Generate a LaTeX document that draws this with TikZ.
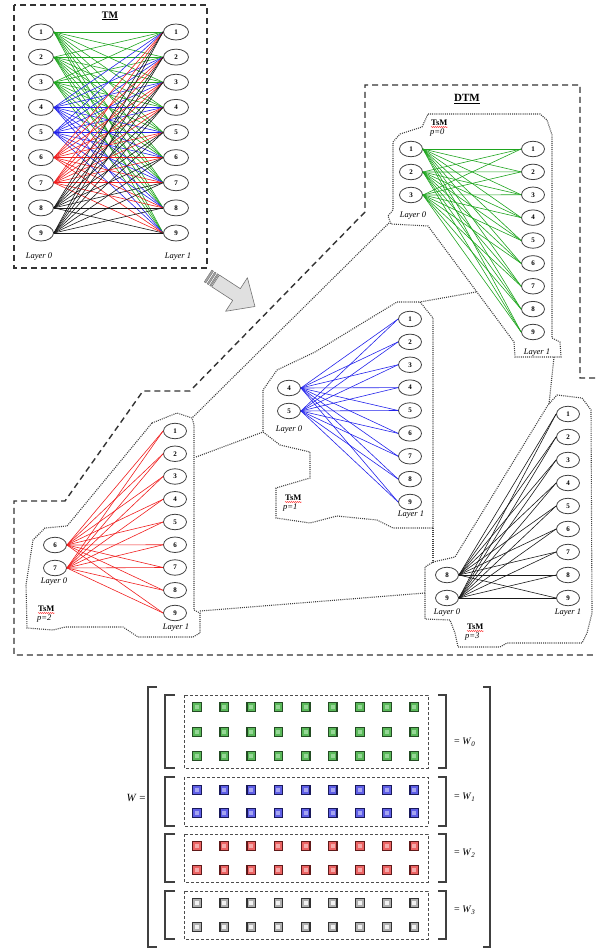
\documentclass[tikz,border=0pt]{standalone}
\usepackage{fontspec}
\setmainfont{Liberation Serif}
\usetikzlibrary{shapes.geometric,decorations.pathmorphing}
\definecolor{eg}{RGB}{30,165,30}
\definecolor{eb}{RGB}{35,35,235}
\definecolor{er}{RGB}{240,30,30}
\definecolor{ek}{RGB}{25,25,25}
\definecolor{sqg}{RGB}{90,185,90}
\definecolor{bdg}{RGB}{35,75,35}
\definecolor{ing}{RGB}{150,215,150}
\definecolor{sqb}{RGB}{95,95,230}
\definecolor{bdb}{RGB}{25,25,90}
\definecolor{inb}{RGB}{165,165,240}
\definecolor{sqr}{RGB}{235,100,100}
\definecolor{bdr}{RGB}{95,25,25}
\definecolor{inr}{RGB}{245,170,170}
\definecolor{sqk}{RGB}{175,175,175}
\definecolor{bdk}{RGB}{50,50,50}
\definecolor{ink}{RGB}{242,242,242}
\tikzset{
  nd/.style={ellipse, draw=black!75, line width=0.8pt, minimum width=23pt, minimum height=15.5pt, inner sep=0pt, fill=white, font=\fontsize{7}{8}\selectfont\bfseries},
  ndbig/.style={nd, minimum width=25pt, minimum height=16pt},
  edge/.style={line width=0.6pt},
  lay/.style={inner sep=0pt, font=\fontsize{8.5}{9}\selectfont\itshape},
  tsm/.style={inner sep=0pt, anchor=west, font=\fontsize{8.5}{9}\selectfont\bfseries},
  pval/.style={inner sep=0pt, anchor=west, font=\fontsize{8.5}{9}\selectfont\itshape},
  wavy/.style={red, line width=0.4pt, decorate, decoration={snake, amplitude=0.5pt, segment length=2pt}},
  bigdash/.style={line width=1.4pt, black!80, dash pattern=on 6pt off 4pt},
  dotb/.style={line width=1.1pt, black!75, dash pattern=on 1pt off 1.1pt},
  brk/.style={line width=1.2pt, black!75},
  dbox/.style={line width=0.7pt, black!70, dash pattern=on 3pt off 2pt},
  wlab/.style={inner sep=0pt, anchor=west, font=\fontsize{10}{12}\selectfont},
}
\begin{document}
\begin{tikzpicture}[x=1pt,y=-1pt]
\useasboundingbox (0,0) rectangle (595,949);

% ---------------- TM ----------------
\draw[bigdash] (14,5) rectangle (207,268);
\node[inner sep=0pt, font=\fontsize{10}{12}\selectfont\bfseries] (tmt) at (110,16) {\underline{TM}};
\foreach \i in {1,...,9} {
  \node[ndbig] (tmL\i) at (41,{32+25.125*(\i-1)}) {\i};
  \node[ndbig] (tmR\i) at (176,{32+25.125*(\i-1)}) {\i};
}
\foreach \i/\c in {1/eg,2/eg,3/eg,4/eb,5/eb,6/er,7/er,8/ek,9/ek}
  \foreach \j in {1,...,9}
    \draw[edge,\c] (tmL\i.east) -- (tmR\j.west);
\node[lay] (tml0) at (39,257) {Layer 0};
\node[lay] (tml1) at (178,257) {Layer 1};

% ---------------- arrow ----------------
\begin{scope}[shift={(208,276)}, rotate=-33]
  \draw[draw=black!55, fill=black!12, line width=0.6pt, line join=round]
    (9,-7) -- (34,-7) -- (34,-20) -- (56,0) -- (34,20) -- (34,7) -- (9,7) -- cycle;
  \draw[draw=black!55, fill=black!35, line width=0.4pt] (0,-7) rectangle (2,7);
  \draw[draw=black!55, fill=black!35, line width=0.4pt] (3.5,-7) rectangle (5.2,7);
  \draw[draw=black!55, fill=black!35, line width=0.4pt] (6.6,-7) rectangle (8,7);
\end{scope}

% ---------------- DTM outline ----------------
\draw[bigdash] (595,378) -- (580,378) -- (580,85) -- (365,85) -- (365,212) -- (190,391) -- (143,391) -- (65,501) -- (14,501) -- (14,655) -- (595,655);
\node[inner sep=0pt, font=\fontsize{11}{13}\selectfont\bfseries] (dtmt) at (467,99) {\underline{DTM}};

% ---------------- group p=0 (green) ----------------
\draw[dotb] (428,114) -- (540,114) -- (547,120) -- (552,135) -- (552,338) -- (560,342) -- (561,357) -- (515,357) -- (514,342) -- (428,226) -- (391,224) -- (388,216) -- (393,210) -- (393,142) -- (400,134) -- (422,127) -- cycle;
\foreach \i in {1,2,3}
  \node[nd] (gL\i) at (411,{149+23*(\i-1)}) {\i};
\foreach \j in {1,...,9}
  \node[nd] (gR\j) at (533,{149+22.875*(\j-1)}) {\j};
\foreach \i in {1,2,3}
  \foreach \j in {1,...,9}
    \draw[edge,eg] (gL\i.east) -- (gR\j.west);
\node[tsm] (gt) at (431,123) {TsM};
\draw[wavy] ([yshift=-1pt]gt.south west) -- ([yshift=-1pt]gt.south east);
\node[pval] (gp) at (430,133) {p=0};
\node[lay] (gl0) at (413,216) {Layer 0};
\node[lay] (gl1) at (537,353) {Layer 1};

% ---------------- group p=1 (blue) ----------------
\draw[dotb] (397,302) -- (420,302) -- (433,318) -- (433,528) -- (393,528) -- (377,520) -- (337,516) -- (310,523) -- (276,518) -- (276,488) -- (310,478) -- (310,452) -- (280,445) -- (263,432) -- (263,390) -- (277,370) -- (315,352) -- cycle;
\node[nd] (bL4) at (289,388) {4};
\node[nd] (bL5) at (289,411) {5};
\foreach \j in {1,...,9}
  \node[nd] (bR\j) at (410,{319+22.875*(\j-1)}) {\j};
\foreach \i in {4,5}
  \foreach \j in {1,...,9}
    \draw[edge,eb] (bL\i.east) -- (bR\j.west);
\node[tsm] (bt) at (285,498) {TsM};
\draw[wavy] ([yshift=-1pt]bt.south west) -- ([yshift=-1pt]bt.south east);
\node[pval] (bp) at (283,508) {p=1};
\node[lay] (bl0) at (289,430) {Layer 0};
\node[lay] (bl1) at (411,515) {Layer 1};

% ---------------- group p=2 (red) ----------------
\draw[dotb] (152,423) -- (177,413) -- (192,418) -- (194,425) -- (194,610) -- (200,613) -- (200,633) -- (193,637) -- (138,637) -- (123,627) -- (65,627) -- (53,630) -- (27,628) -- (26,585) -- (33,540) -- (45,528) -- (67,526) -- (72,520) -- cycle;
\node[nd] (rL6) at (55,545) {6};
\node[nd] (rL7) at (55,568) {7};
\foreach \j in {1,...,9}
  \node[nd] (rR\j) at (175,{431+22.75*(\j-1)}) {\j};
\foreach \i in {6,7}
  \foreach \j in {1,...,9}
    \draw[edge,er] (rL\i.east) -- (rR\j.west);
\node[tsm] (rt) at (38,609) {TsM};
\draw[wavy] ([yshift=-1pt]rt.south west) -- ([yshift=-1pt]rt.south east);
\node[pval] (rp) at (37,619) {p=2};
\node[lay] (rl0) at (54,582) {Layer 0};
\node[lay] (rl1) at (176,628) {Layer 1};

% ---------------- group p=3 (black) ----------------
\draw[dotb] (557,395) -- (582,398) -- (591,410) -- (592,613) -- (587,633) -- (582,643) -- (507,643) -- (500,647) -- (458,647) -- (455,633) -- (450,620) -- (425,619) -- (425,567) -- (433,562) -- (455,557) -- (548,405) -- cycle;
\node[nd] (kL8) at (447,575) {8};
\node[nd] (kL9) at (447,598) {9};
\foreach \j in {1,...,9}
  \node[nd] (kR\j) at (568,{414+23*(\j-1)}) {\j};
\foreach \i in {8,9}
  \foreach \j in {1,...,9}
    \draw[edge,ek] (kL\i.east) -- (kR\j.west);
\node[tsm] (kt) at (467,627) {TsM};
\draw[wavy] ([yshift=-1pt]kt.south west) -- ([yshift=-1pt]kt.south east);
\node[pval] (kp) at (465,637) {p=3};
\node[lay] (kl0) at (447,613) {Layer 0};
\node[lay] (kl1) at (568,613) {Layer 1};

% ---------------- dotted connectors ----------------
\coordinate (cgr1) at (389,223);  \coordinate (cgr2) at (192,418);
\coordinate (cgb1) at (476,292);  \coordinate (cgb2) at (420,302);
\coordinate (cgk1) at (554,357);  \coordinate (cgk2) at (549,404);
\coordinate (crb1) at (196,457);  \coordinate (crb2) at (263,432);
\coordinate (crk1) at (200,611);  \coordinate (crk2) at (425,593);
\coordinate (cbk1) at (433,528);  \coordinate (cbk2) at (433,562);
\draw[dotb] (cgr1) -- (cgr2);
\draw[dotb] (cgb1) -- (cgb2);
\draw[dotb] (cgk1) -- (cgk2);
\draw[dotb] (crb1) -- (crb2);
\draw[dotb] (crk1) -- (crk2);
\draw[dotb] (cbk1) -- (cbk2);

% ---------------- matrix W ----------------
\node[inner sep=0pt, font=\fontsize{11}{13}\selectfont] (wl) at (136,798) {\textit{W} =};
\draw[brk] (157,687) -- (148,687) -- (148,947) -- (157,947);
\draw[brk] (483,687) -- (490,687) -- (490,947) -- (483,947);
\foreach \t/\b in {695/768, 777/826, 834/882, 891/939} {
  \draw[brk] (175,\t) -- (165,\t) -- (165,\b) -- (175,\b);
  \draw[brk] (438,\t) -- (446,\t) -- (446,\b) -- (438,\b);
  \draw[dbox] (184,\t) rectangle (428,\b);
}
\foreach \y/\c in {707/g,732/g,756/g,790/b,813/b,846/r,870/r,903/k,927/k}
  \foreach \x in {0,...,8} {
    \draw[draw=bd\c, fill=sq\c, line width=1.3pt] ({197+27.15*\x-4.3},{\y-4.3}) rectangle ++(8.6,8.6);
    \fill[in\c] ({197+27.15*\x-2},{\y-2}) rectangle ++(4,4);
  }
\node[wlab] (w0) at (454,742) {= \textit{W}\raisebox{-2pt}{\fontsize{7}{8}\selectfont\textit{0}}};
\node[wlab] (w1) at (454,797) {= \textit{W}\raisebox{-2pt}{\fontsize{7}{8}\selectfont\textit{1}}};
\node[wlab] (w2) at (454,853) {= \textit{W}\raisebox{-2pt}{\fontsize{7}{8}\selectfont\textit{2}}};
\node[wlab] (w3) at (454,910) {= \textit{W}\raisebox{-2pt}{\fontsize{7}{8}\selectfont\textit{3}}};
\end{tikzpicture}
\end{document}
